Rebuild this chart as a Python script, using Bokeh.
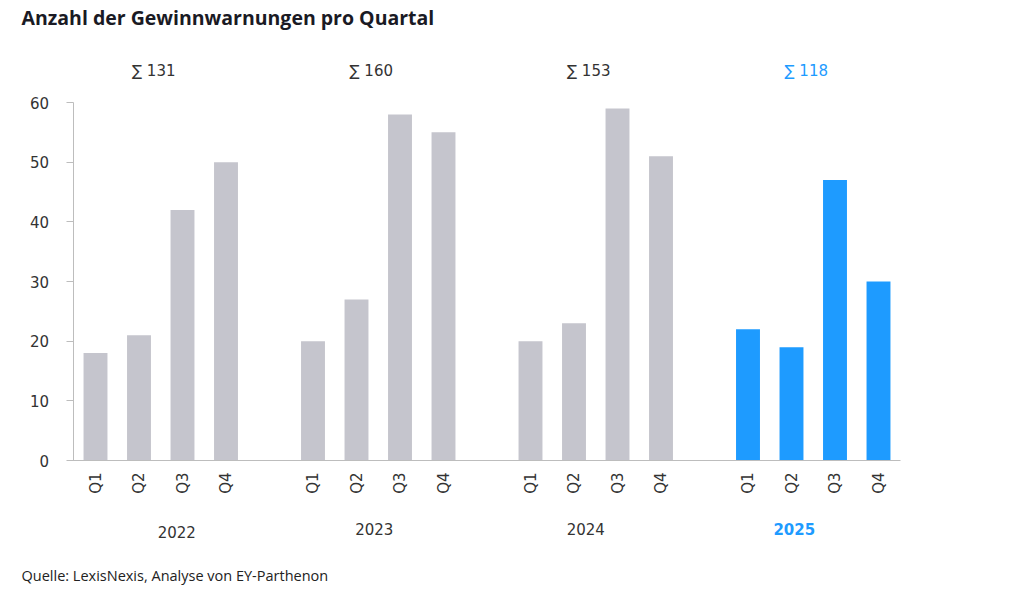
import math
from bokeh.plotting import figure
from bokeh.models import ColumnDataSource, FixedTicker
from bokeh.core.properties import value
from bokeh.embed import file_html
from bokeh.resources import INLINE

# ---- data ----
years = ["2022", "2023", "2024", "2025"]
quarters = ["Q1", "Q2", "Q3", "Q4"]
counts_2022 = [18, 21, 42, 50]
counts_2023 = [20, 27, 58, 55]
counts_2024 = [20, 23, 59, 51]
counts_2025 = [22, 19, 47, 30]
y_ticks = [0, 10, 20, 30, 40, 50, 60]
title_text = "Anzahl der Gewinnwarnungen pro Quartal"
source_text = "Quelle: LexisNexis, Analyse  von EY-Parthenon"
highlight_year = "2025"

all_counts = [counts_2022, counts_2023, counts_2024, counts_2025]

# ---- styling / layout ----
GRAY = "#C5C5CD"
BLUE = "#1E9BFF"
TEXT = "#333333"
AXIS = "#BDBDBD"
W, H = 1016, 588
PX_X0, PX_PER_X = 95.0, 43.5      # pixel of x=0, pixels per slot
PX_Y0, PX_PER_Y = 460.0, 358.0 / 60  # pixel of y=0, pixels per unit
year_label_dx = [16, -4, -10, -19]   # pixel nudges of the year labels
year_label_dy = [2, -1, -1, -1]
sum_label_dx = -7


def px_x(px):
    return (px - PX_X0) / PX_PER_X


def px_y(py):
    return (PX_Y0 - py) / PX_PER_Y


xs, tops, colors, labels = [], [], [], []
for gi, (yr, vals) in enumerate(zip(years, all_counts)):
    for qi, (q, v) in enumerate(zip(quarters, vals)):
        xs.append(gi * 5 + qi)
        tops.append(v)
        colors.append(BLUE if yr == highlight_year else GRAY)
        labels.append(q)

src = ColumnDataSource(dict(x=xs, top=tops, color=colors))

p = figure(width=W, height=H, output_backend="svg", toolbar_location=None,
           x_range=(px_x(0), px_x(W)), y_range=(px_y(H), px_y(0)),
           min_border=0)
p.outline_line_color = None
p.grid.visible = False
p.background_fill_color = "white"
p.border_fill_color = "white"

p.vbar(x="x", top="top", width=0.55, color="color", source=src, line_color=None)

# y axis
ya = p.yaxis[0]
ya.fixed_location = px_x(72.5)
ya.ticker = FixedTicker(ticks=y_ticks)
ya.bounds = (0, 60)
ya.axis_line_color = AXIS
ya.major_tick_line_color = AXIS
ya.major_tick_out = 7
ya.major_tick_in = 0
ya.minor_tick_line_color = None
ya.major_label_text_font = "DejaVu Sans"
ya.major_label_text_font_size = "15px"
ya.major_label_text_color = TEXT
ya.major_label_standoff = 17

# x axis
xa = p.xaxis[0]
xa.fixed_location = 0
xa.bounds = (px_x(67), px_x(900))
xa.ticker = FixedTicker(ticks=xs)
xa.major_label_overrides = {x: l for x, l in zip(xs, labels)}
xa.major_label_orientation = math.pi / 2
xa.axis_line_color = AXIS
xa.major_tick_line_color = None
xa.major_tick_out = 0
xa.major_tick_in = 0
xa.minor_tick_line_color = None
xa.major_label_text_font = "DejaVu Sans"
xa.major_label_text_font_size = "15px"
xa.major_label_text_color = TEXT
xa.major_label_standoff = 12

# group sums and year labels
centers = [gi * 5 + 1.5 for gi in range(len(years))]
sum_txt = ["∑ " + str(sum(v)) for v in all_counts]
grp_col = [BLUE if yr == highlight_year else TEXT for yr in years]
grp_style = ["bold" if yr == highlight_year else "normal" for yr in years]
gsrc = ColumnDataSource(dict(x=centers, s=sum_txt, yr=years, c=grp_col, st=grp_style,
                             ys=[px_y(70)] * len(years), yy=[px_y(529)] * len(years),
                             ydx=year_label_dx, ydy=year_label_dy))
p.text(x="x", y="ys", text="s", source=gsrc, text_align="center", text_baseline="middle",
       x_offset=sum_label_dx,
       text_font=value("DejaVu Sans"), text_font_size="15px", text_color="c")
p.text(x="x", y="yy", text="yr", source=gsrc, text_align="center", text_baseline="middle",
       x_offset="ydx", y_offset="ydy",
       text_font=value("DejaVu Sans"), text_font_size="15px", text_color="c",
       text_font_style="st")

# title and source
p.text(x=[px_x(21)], y=[px_y(17)], text=[title_text], text_align="left",
       text_baseline="middle", text_font=value("Open Sans"), text_font_size="19.5px",
       text_font_style="bold", text_color="#1A1A24")
p.text(x=[px_x(21)], y=[px_y(575)], text=[source_text], text_align="left",
       text_baseline="middle", text_font=value("Open Sans"), text_font_size="14.5px",
       text_color="#222222")

open("out.html", "w").write(file_html(p, INLINE))
